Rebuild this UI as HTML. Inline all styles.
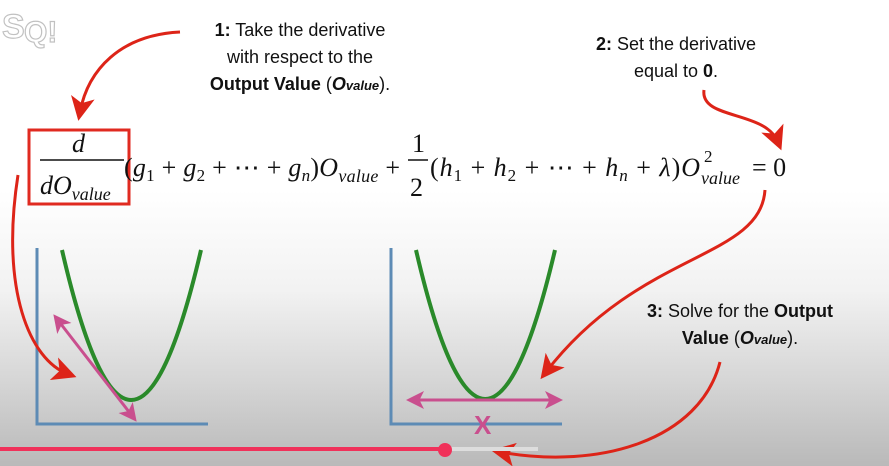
<!DOCTYPE html>
<html><head><meta charset="utf-8"><style>
html,body{margin:0;padding:0;width:889px;height:466px;overflow:hidden;}
body{background:linear-gradient(#fff 0px,#fff 190px,#f2f2f2 290px,#d6d6d6 380px,#b9b9b9 466px);font-family:"Liberation Sans",sans-serif;position:relative;}
.t{position:absolute;font-size:18px;line-height:27px;text-align:center;color:#111;}
svg{position:absolute;left:0;top:0;}
</style></head><body>
<svg width="889" height="466">
<defs>
<marker id="ar" markerWidth="8" markerHeight="8" refX="5" refY="4" orient="auto"><path d="M0,0 L8,4 L0,8 L2,4 z" fill="#dd2418"/></marker>
<marker id="pk" markerWidth="6" markerHeight="6" refX="4" refY="3" orient="auto"><path d="M0,0 L6,3 L0,6 L1.5,3 z" fill="#c94f8e"/></marker>
<marker id="pks" markerWidth="6" markerHeight="6" refX="2" refY="3" orient="auto"><path d="M6,0 L0,3 L6,6 L4.5,3 z" fill="#c94f8e"/></marker>
</defs>
<g opacity="0.45" font-family="Liberation Sans" font-weight="bold" fill="none" stroke="#777">
<text x="2" y="38" font-size="34" stroke-width="1.2">S</text><text x="24" y="42" font-size="30" stroke-width="1.2">Q!</text>
</g>
<g font-family="Liberation Serif" font-size="26" fill="#111">
<rect x="29" y="130" width="100" height="74" fill="none" stroke="#e02a20" stroke-width="3"/>
<text x="72" y="152" font-style="italic">d</text>
<line x1="40" y1="160" x2="124" y2="160" stroke="#111" stroke-width="1.5"/>
<text x="40" y="194" font-style="italic">dO<tspan font-size="18" dy="6">value</tspan></text>
<text x="124" y="176" textLength="276" lengthAdjust="spacing"><tspan>(</tspan><tspan font-style="italic">g</tspan><tspan font-size="17" dy="5">1</tspan><tspan dy="-5"> + </tspan><tspan font-style="italic">g</tspan><tspan font-size="17" dy="5">2</tspan><tspan dy="-5"> + ⋯ + </tspan><tspan font-style="italic">g</tspan><tspan font-size="17" font-style="italic" dy="5">n</tspan><tspan dy="-5">)</tspan><tspan font-style="italic">O</tspan><tspan font-style="italic" font-size="18" dy="6">value</tspan><tspan dy="-6"> + </tspan></text>
<text x="412" y="152">1</text>
<line x1="408" y1="160" x2="428" y2="160" stroke="#111" stroke-width="1.5"/>
<text x="410" y="196">2</text>
<text x="430" y="176" textLength="270" lengthAdjust="spacing"><tspan>(</tspan><tspan font-style="italic">h</tspan><tspan font-size="17" dy="5">1</tspan><tspan dy="-5"> + </tspan><tspan font-style="italic">h</tspan><tspan font-size="17" dy="5">2</tspan><tspan dy="-5"> + ⋯ + </tspan><tspan font-style="italic">h</tspan><tspan font-size="17" font-style="italic" dy="5">n</tspan><tspan dy="-5"> + </tspan><tspan font-style="italic">λ</tspan><tspan>)</tspan><tspan font-style="italic">O</tspan></text>
<text x="704" y="162" font-size="17">2</text>
<text x="701" y="184" font-size="18" font-style="italic">value</text>
<text x="752" y="176">= 0</text>
</g>
<g>
<path d="M37,248 V424 H208" fill="none" stroke="#5d8bb5" stroke-width="3"/>
<path d="M62,250 Q131,550 201,250" fill="none" stroke="#2a8a2a" stroke-width="4"/>
<line x1="57" y1="319" x2="133" y2="417" stroke="#c94f8e" stroke-width="3" marker-start="url(#pks)" marker-end="url(#pk)"/>
</g>
<g>
<path d="M391,248 V424 H562" fill="none" stroke="#5d8bb5" stroke-width="3"/>
<path d="M416,250 Q485,548 555,250" fill="none" stroke="#2a8a2a" stroke-width="4"/>
<line x1="412" y1="400" x2="557" y2="400" stroke="#c94f8e" stroke-width="3" marker-start="url(#pks)" marker-end="url(#pk)"/>
<text x="474" y="434" font-family="Liberation Sans" font-weight="bold" font-size="26" fill="#c94f8e">X</text>
</g>
<g fill="none" stroke="#dd2418" stroke-width="3" marker-end="url(#ar)">
<path d="M180,32 C120,35 88,70 80,112"/>
<path d="M18,175 C0,290 30,360 68,374"/>
<path d="M704,90 C700,120 765,110 778,142"/>
<path d="M765,190 C760,260 640,250 546,372"/>
<path d="M720,362 C700,440 600,470 500,452"/>
</g>
<g>
<rect x="445" y="447" width="93" height="4" fill="#ddd"/>
<rect x="0" y="447" width="445" height="4" fill="#f0315a"/>
<circle cx="445" cy="450" r="7" fill="#f0315a"/>
</g>
</svg>
<div class="t" style="left:170px;top:17px;width:260px;"><b>1:</b> Take the derivative<br>with respect to the<br><b>Output Value</b> (<b><i>O<span style="font-size:13px">value</span></i></b>).</div>
<div class="t" style="left:556px;top:31px;width:240px;"><b>2:</b> Set the derivative<br>equal to <b>0</b>.</div>
<div class="t" style="left:615px;top:298px;width:250px;"><b>3:</b> Solve for the <b>Output</b><br><b>Value</b> (<b><i>O<span style="font-size:13px">value</span></i></b>).</div>
</body></html>
